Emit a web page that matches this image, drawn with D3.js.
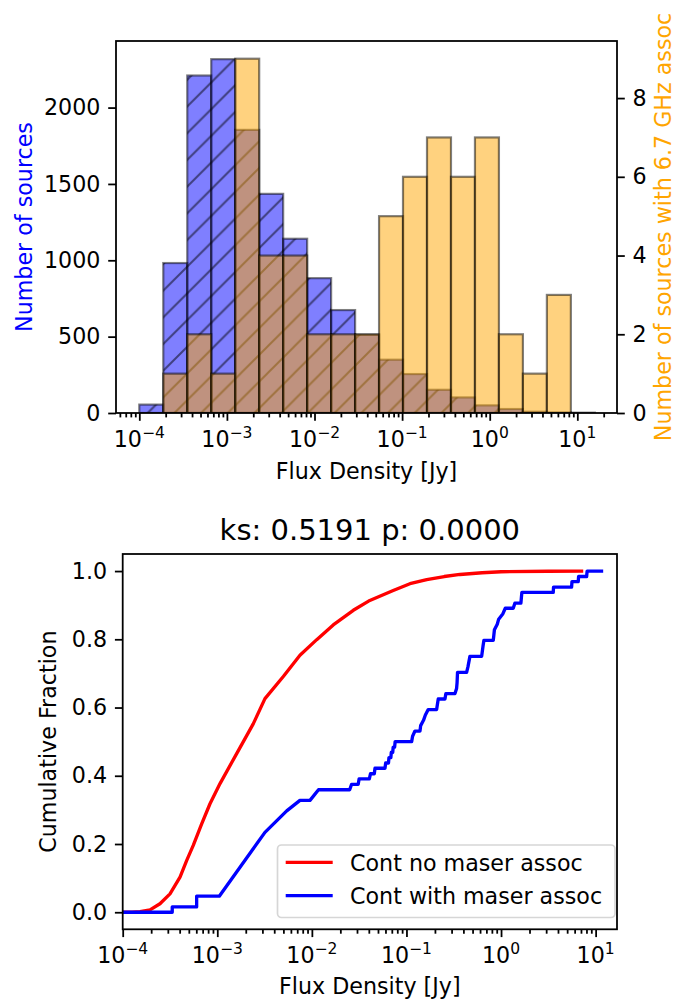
<!DOCTYPE html>
<html><head><meta charset="utf-8">
<script src="https://cdn.jsdelivr.net/npm/d3@7"></script>
<style>
body{margin:0;background:#fff;}
text{font-family:"DejaVu Sans",sans-serif;}
</style></head><body><svg id="c" width="690" height="1001"></svg>
<script>
// ---------- DATA ----------
const binEdges = [1.000e-4,1.878e-4,3.527e-4,6.624e-4,1.244e-3,2.336e-3,4.387e-3,8.240e-3,1.547e-2,2.906e-2,5.456e-2,0.1024,0.1924,0.3613,0.6786,1.274,2.393,4.494,8.441,15.85];
const allCounts = [55,982,2210,2317,1854,1435,1141,883,674,512,349,255,152,102,50,26,8,3,2];
const maserCounts = [0,1,2,1,9,4,4,2,2,2,5,6,7,6,7,2,1,3,0];
const leftTicks = [0,500,1000,1500,2000];
const rightTicks = [0,2,4,6,8];
const cdfTicks = [0.0,0.2,0.4,0.6,0.8,1.0];
const decadeExps = [-4,-3,-2,-1,0,1];

const noMaserFlux = [1e-4,1.259e-4,1.524e-4,1.945e-4,2.477e-4,3.162e-4,4.036e-4,4.753e-4,5.572e-4,6.839e-4,8.375e-4,1.069e-3,1.603e-3,2.399e-3,3.192e-3,4.989e-3,7.482e-3,1.125e-2,1.683e-2,2.742e-2,3.981e-2,7.244e-2,0.1089,0.1637,0.2512,0.3681,0.631,1.0,3.162,7.396];
const noMaserFrac = [0,0.0005,0.002,0.007,0.025,0.054,0.103,0.152,0.196,0.259,0.318,0.377,0.465,0.552,0.626,0.691,0.753,0.799,0.842,0.885,0.912,0.943,0.963,0.975,0.984,0.99,0.995,0.998,0.9995,1.0];

const maserFlux = [1e-4,3.34e-4,3.34e-4,6.05e-4,6.05e-4,1.05e-3,3.19e-3,5.42e-3,7.48e-3,9.55e-3,1.175e-2,2.51e-2,2.63e-2,3.09e-2,3.16e-2,4.05e-2,4.17e-2,4.57e-2,4.65e-2,5.93e-2,6.03e-2,6.46e-2,6.53e-2,6.84e-2,6.92e-2,7.16e-2,7.24e-2,7.50e-2,7.59e-2,0.1135,0.1161,0.1230,0.1390,0.1413,0.1514,0.1585,0.1698,0.2084,0.2168,0.2553,0.2612,0.3258,0.3388,0.3428,0.3467,0.4325,0.4467,0.4688,0.6237,0.6457,0.6592,0.8279,0.8511,0.9120,0.9441,1.047,1.109,1.346,1.400,1.622,1.641,1.660,3.565,3.589,5.572,5.623,6.546,6.607,8.035,8.128,12.02];
const maserFrac = [0,0,0.0156,0.0156,0.047,0.047,0.234,0.297,0.328,0.328,0.359,0.359,0.375,0.375,0.391,0.391,0.406,0.406,0.422,0.422,0.4375,0.4375,0.453,0.453,0.469,0.469,0.484,0.484,0.5,0.5,0.516,0.531,0.531,0.547,0.5625,0.578,0.594,0.594,0.625,0.625,0.641,0.641,0.656,0.672,0.703,0.703,0.719,0.75,0.75,0.781,0.797,0.797,0.828,0.844,0.859,0.875,0.891,0.891,0.906,0.906,0.922,0.9375,0.9375,0.953,0.953,0.969,0.969,0.984,0.984,1.0,1.0];

// ---------- SETUP ----------
const svg = d3.select("#c");
const FS = 22.2, LW = 1.78, MAJ = 7.8, MIN = 4.4, PAD = 7.8, PLW = 3.33;
const defs = svg.append("defs");
const hs = 26.7;
const pat = defs.append("pattern").attr("id","hatch").attr("patternUnits","userSpaceOnUse")
  .attr("width",hs).attr("height",hs);
pat.append("path").attr("d",`M-2,${2} L2,-2 M0,${hs} L${hs},0 M${hs-2},${hs+2} L${hs+2},${hs-2}`)
  .attr("stroke","rgba(0,0,0,0.5)").attr("stroke-width",2.0);

function supLabel(sel, exp) {
  sel.text(null);
  sel.append("tspan").text("10");
  sel.append("tspan").attr("font-size",FS*0.7).attr("dy",-9.5).text(exp<0 ? "\u2212"+(-exp) : String(exp));
}
function logTicks(scale) {
  const [a,b] = scale.domain();
  const maj=[], min=[];
  for (let e=-6;e<=2;e++) for (let m=1;m<=9;m++) {
    const v = m*Math.pow(10,e);
    if (v>=a*0.9999 && v<=b*1.0001) (m===1?maj:min).push(v);
  }
  return {maj,min};
}
function drawXAxis(g, scale, y, labelY) {
  const t = logTicks(scale);
  const ax = g.append("g").attr("transform",`translate(0,${y})`);
  ax.append("g").call(d3.axisBottom(scale).tickValues(t.min).tickSize(MIN).tickFormat("")).call(s=>s.select(".domain").remove());
  ax.append("g").call(d3.axisBottom(scale).tickValues(t.maj).tickSize(MAJ).tickFormat("")).call(s=>s.select(".domain").remove());
  ax.selectAll("line").attr("stroke","#000").attr("stroke-width",LW);
  decadeExps.forEach(e => {
    const v = Math.pow(10,e);
    const tx = g.append("text").attr("x",scale(v)).attr("y",labelY).attr("text-anchor","middle").attr("font-size",FS);
    supLabel(tx,e);
  });
}
function styleAxis(a) {
  a.select(".domain").remove();
  a.selectAll("line").attr("stroke","#000").attr("stroke-width",LW);
  a.selectAll("text").attr("font-size",FS).attr("font-family","DejaVu Sans").attr("fill","#000");
}

// ---------- TOP HISTOGRAM ----------
const T = {l:116, r:617, t:41, b:413};
const xTop = d3.scaleLog().domain([Math.pow(10,-4.266), Math.pow(10,1.453)]).range([T.l,T.r]);
const yLeft = d3.scaleLinear().domain([0,2436]).range([T.b,T.t]);
const yRight = d3.scaleLinear().domain([0,9.45]).range([T.b,T.t]);
const topG = svg.append("g");
defs.append("clipPath").attr("id","clipTop").append("rect").attr("x",T.l).attr("y",T.t).attr("width",T.r-T.l).attr("height",T.b-T.t);
const barsG = topG.append("g").attr("clip-path","url(#clipTop)");
const bins = allCounts.map((c,i)=>({x0:binEdges[i],x1:binEdges[i+1],c:c,m:maserCounts[i]}));
bins.forEach(d => {
  const x = xTop(d.x0), w = xTop(d.x1)-xTop(d.x0), y = yLeft(d.c), h = T.b - y;
  barsG.append("rect").attr("x",x).attr("y",y).attr("width",w).attr("height",h).attr("fill","rgba(0,0,255,0.5)");
  barsG.append("rect").attr("x",x).attr("y",y).attr("width",w).attr("height",h).attr("fill","url(#hatch)");
  barsG.append("rect").attr("x",x).attr("y",y).attr("width",w).attr("height",h).attr("fill","none")
    .attr("stroke","rgba(0,0,0,0.5)").attr("stroke-width",2.2);
});
bins.forEach(d => {
  if (d.m<=0) return;
  const x = xTop(d.x0), w = xTop(d.x1)-xTop(d.x0), y = yRight(d.m), h = T.b - y;
  barsG.append("rect").attr("x",x).attr("y",y).attr("width",w).attr("height",h)
    .attr("fill","rgba(255,165,0,0.5)").attr("stroke","rgba(0,0,0,0.5)").attr("stroke-width",2.2);
});
topG.append("rect").attr("x",T.l).attr("y",T.t).attr("width",T.r-T.l).attr("height",T.b-T.t)
  .attr("fill","none").attr("stroke","#000").attr("stroke-width",LW);
styleAxis(topG.append("g").attr("transform",`translate(${T.l},0)`)
  .call(d3.axisLeft(yLeft).tickValues(leftTicks).tickSize(MAJ).tickPadding(PAD).tickFormat(d3.format("d"))));
styleAxis(topG.append("g").attr("transform",`translate(${T.r},0)`)
  .call(d3.axisRight(yRight).tickValues(rightTicks).tickSize(MAJ).tickPadding(PAD).tickFormat(d3.format("d"))));
drawXAxis(topG, xTop, T.b, 447);
topG.append("text").attr("x",(T.l+T.r)/2).attr("y",479).attr("text-anchor","middle").attr("font-size",FS).text("Flux Density [Jy]");
topG.append("text").attr("transform",`translate(31.5,${(T.t+T.b)/2}) rotate(-90)`).attr("text-anchor","middle")
  .attr("font-size",FS).attr("fill","blue").text("Number of sources");
topG.append("text").attr("transform",`translate(671,${(T.t+T.b)/2}) rotate(-90)`).attr("text-anchor","middle")
  .attr("font-size",FS).attr("fill","orange").text("Number of sources with 6.7 GHz assoc");

// ---------- BOTTOM CDF ----------
const B = {l:122.7, r:617, t:554, b:929.3};
const xB = d3.scaleLog().domain([1e-4, Math.pow(10,1.226)]).range([B.l,B.r]);
const yB = d3.scaleLinear().domain([-0.05,1.05]).range([B.b,B.t]);
const bot = svg.append("g");
defs.append("clipPath").attr("id","clipBot").append("rect").attr("x",B.l).attr("y",B.t).attr("width",B.r-B.l).attr("height",B.b-B.t);
const lineG = bot.append("g").attr("clip-path","url(#clipBot)");
const line = d3.line().x(d=>xB(d[0])).y(d=>yB(d[1]));
lineG.append("path").datum(noMaserFlux.map((f,i)=>[f,noMaserFrac[i]])).attr("d",line)
  .attr("fill","none").attr("stroke","red").attr("stroke-width",PLW).attr("stroke-linejoin","round");
lineG.append("path").datum(maserFlux.map((f,i)=>[f,maserFrac[i]])).attr("d",line)
  .attr("fill","none").attr("stroke","blue").attr("stroke-width",PLW).attr("stroke-linejoin","round");
bot.append("rect").attr("x",B.l).attr("y",B.t).attr("width",B.r-B.l).attr("height",B.b-B.t)
  .attr("fill","none").attr("stroke","#000").attr("stroke-width",LW);
styleAxis(bot.append("g").attr("transform",`translate(${B.l},0)`)
  .call(d3.axisLeft(yB).tickValues(cdfTicks).tickSize(MAJ).tickPadding(PAD).tickFormat(d3.format(".1f"))));
drawXAxis(bot, xB, B.b, 963);
bot.append("text").attr("x",(B.l+B.r)/2).attr("y",994).attr("text-anchor","middle").attr("font-size",FS).text("Flux Density [Jy]");
bot.append("text").attr("transform",`translate(56,${(B.t+B.b)/2}) rotate(-90)`).attr("text-anchor","middle")
  .attr("font-size",FS).text("Cumulative Fraction");
bot.append("text").attr("x",(B.l+B.r)/2).attr("y",540).attr("text-anchor","middle").attr("font-size",29).text("ks: 0.5191 p: 0.0000");
// legend
const lg = bot.append("g");
lg.append("rect").attr("x",277.5).attr("y",845).attr("width",337.5).attr("height",72.5).attr("rx",4)
  .attr("fill","rgba(255,255,255,0.8)").attr("stroke","#d6d6d6").attr("stroke-width",1.7);
[["Cont no maser assoc","red",862.3],["Cont with maser assoc","blue",895.7]].forEach(([t,c,y])=>{
  lg.append("line").attr("x1",285.7).attr("x2",332.7).attr("y1",y).attr("y2",y).attr("stroke",c).attr("stroke-width",PLW);
  lg.append("text").attr("x",350).attr("y",y+8.5).attr("font-size",FS).text(t);
});
</script></body></html>
